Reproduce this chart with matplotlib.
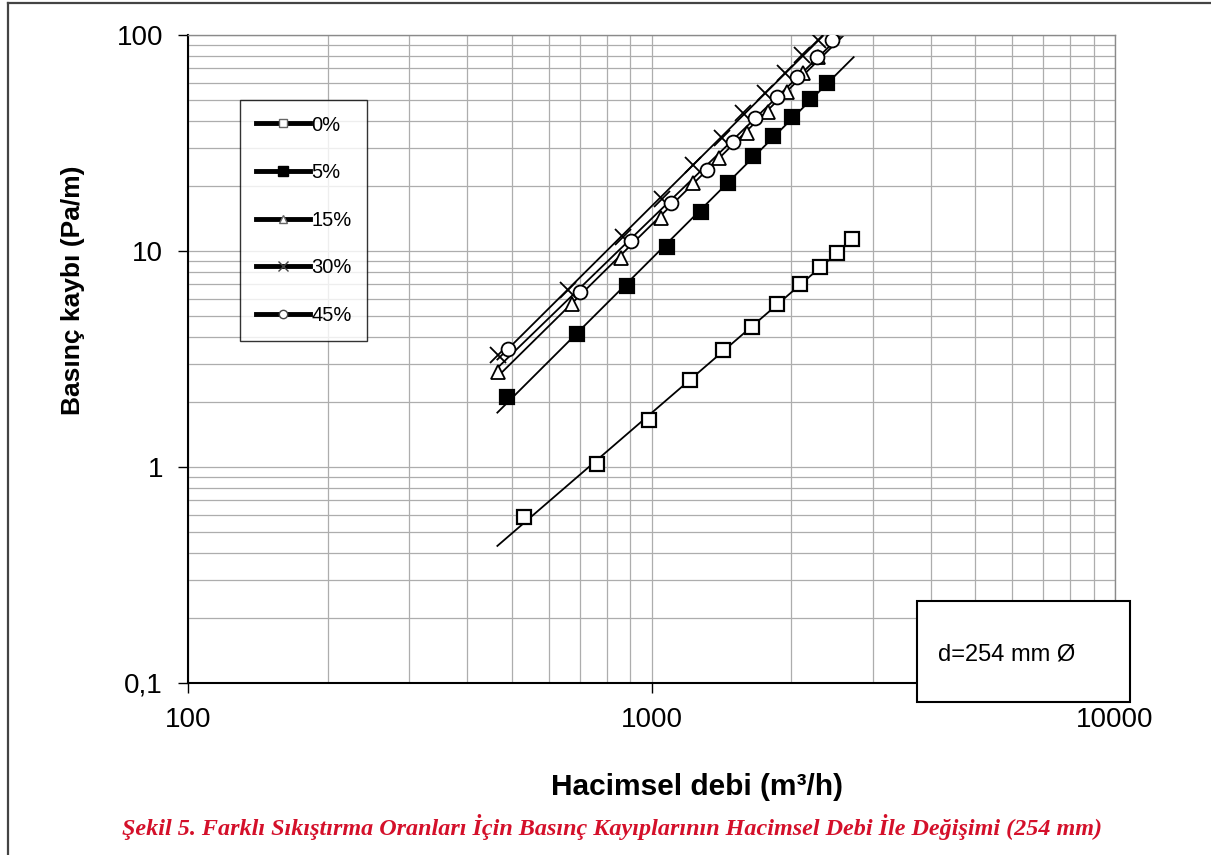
import numpy as np
import matplotlib
matplotlib.use("Agg")
import matplotlib.pyplot as plt
from matplotlib.lines import Line2D
from matplotlib.patches import Rectangle

plt.rcParams['font.family'] = ['Liberation Sans', 'DejaVu Sans']

# data (flow m3/h, pressure loss Pa/m)
q_0 = [531, 763, 988, 1211, 1427, 1648, 1866, 2091, 2310, 2514, 2708]
dp_0 = [0.587, 1.03, 1.65, 2.53, 3.48, 4.45, 5.68, 7.03, 8.43, 9.79, 11.36]

q_5 = [489, 692, 887, 1082, 1277, 1464, 1658, 1831, 2013, 2198, 2388]
dp_5 = [2.10, 4.13, 6.88, 10.47, 15.2, 20.6, 27.5, 34.1, 41.6, 50.5, 59.7]

q_15 = [467, 673, 859, 1048, 1227, 1398, 1605, 1787, 1957, 2126, 2287]
dp_15 = [2.76, 5.68, 9.25, 14.2, 20.6, 26.9, 35.1, 44.2, 54.6, 66.5, 79.4]

q_30 = [467, 661, 866, 1052, 1231, 1418, 1578, 1757, 1941, 2109, 2291]
dp_30 = [3.30, 6.60, 11.57, 17.35, 25.0, 33.2, 43.4, 53.7, 66.5, 80.8, 94.8]

q_45 = [491, 701, 903, 1102, 1316, 1501, 1673, 1862, 2057, 2272, 2448]
dp_45 = [3.51, 6.48, 11.16, 16.6, 23.7, 32.1, 41.1, 51.8, 64.1, 79.4, 94.8]

labels = ["0%", "5%", "15%", "30%", "45%"]
trend_range = [465, 2730]

fig = plt.figure(figsize=(12.11, 8.55), dpi=100)
ax = fig.add_axes([188/1211, 1-683/855, (1115-188)/1211, (683-35)/855])

ax.set_xscale("log")
ax.set_yscale("log")
ax.set_xlim(100, 10000)
ax.set_ylim(0.1, 100)

ax.grid(True, which="both", color="#adadad", lw=0.9)
ax.set_axisbelow(True)

styles = [
    dict(marker="s", ms=10, mfc="white", mec="black", mew=1.6),
    dict(marker="s", ms=10, mfc="black", mec="black", mew=1.6),
    dict(marker="^", ms=10, mfc="white", mec="black", mew=1.3),
    dict(marker="x", ms=11, mec="black", mew=1.3),
    dict(marker="o", ms=10, mfc="white", mec="black", mew=1.3),
]
series = [(q_0, dp_0), (q_5, dp_5), (q_15, dp_15), (q_30, dp_30), (q_45, dp_45)]

xt = np.logspace(np.log10(trend_range[0]), np.log10(trend_range[1]), 50)
for (q, dp), st in zip(series, styles):
    b, a = np.polyfit(np.log10(q), np.log10(dp), 1)
    ax.plot(xt, 10**a * xt**b, color="black", lw=1.3, zorder=2)
    ax.plot(q, dp, ls="none", zorder=3, **st)

ax.set_xticks([100, 1000, 10000])
ax.set_xticklabels(["100", "1000", "10000"])
ax.set_yticks([0.1, 1, 10, 100])
ax.set_yticklabels(["0,1", "1", "10", "100"])
ax.tick_params(axis="both", which="major", direction="out", length=7, width=1,
               labelsize=20, color="black")
ax.tick_params(axis="x", pad=10)
ax.tick_params(axis="y", pad=11)
ax.tick_params(which="minor", length=0)

for s in ["left", "bottom"]:
    ax.spines[s].set_color("black")
    ax.spines[s].set_linewidth(1.5)
for s in ["top", "right"]:
    ax.spines[s].set_color("#8a8a8a")
    ax.spines[s].set_linewidth(1.0)

ax.set_xlabel("Hacimsel debi (m³/h)", fontsize=21.5, fontweight="bold")
ax.xaxis.set_label_coords((697-188)/927, (683-773)/648)
ax.set_ylabel("Basınç kaybı (Pa/m)", fontsize=19, fontweight="bold")
ax.yaxis.set_label_coords((85-188)/927, (683-290)/648)

# legend with thick lines and small markers
handles = [
    Line2D([], [], color="black", lw=3.5, marker="s", ms=6, mfc="white", mec="#666666"),
    Line2D([], [], color="black", lw=3.5, marker="s", ms=7, mfc="black", mec="black"),
    Line2D([], [], color="black", lw=3.5, marker="^", ms=6, mfc="white", mec="#666666"),
    Line2D([], [], color="black", lw=3.5, marker="x", ms=7, mec="#444444", mew=1),
    Line2D([], [], color="black", lw=3.5, marker="o", ms=6, mfc="white", mec="#444444"),
]
leg = ax.legend(handles, labels, loc="upper left", bbox_to_anchor=(0.056, 0.9),
                borderaxespad=0, fontsize=14.5, handlelength=2.7, handletextpad=0.05,
                labelspacing=1.42, frameon=True, fancybox=False, borderpad=0.78)
leg.get_frame().set_edgecolor("black")
leg.get_frame().set_linewidth(1.0)

# diameter box, partly outside axes
fig.patches.append(Rectangle((917/1211, 1-702/855), (1130-917)/1211, 101/855,
                             transform=fig.transFigure, fc="white", ec="black", lw=1.5))
fig.text(938/1211, 1-654/855, "d=254 mm Ø", fontsize=17, va="center", ha="left")

# caption
fig.text(612/1211, 1-827/855, "Şekil 5. Farklı Sıkıştırma Oranları İçin Basınç Kayıplarının Hacimsel Debi İle Değişimi (254 mm)",
         family=["Liberation Serif", "DejaVu Serif"], style="italic", fontweight="bold",
         fontsize=17.4, color="#d4102a", ha="center", va="center")

# page border lines
fig.add_artist(Line2D([8/1211, 1], [1-3.5/855, 1-3.5/855], transform=fig.transFigure,
                      color="#444444", lw=1.6))
fig.add_artist(Line2D([8/1211, 8/1211], [0, 1-3.5/855], transform=fig.transFigure,
                      color="#444444", lw=1.6))

fig.savefig("out.png", dpi=100)
